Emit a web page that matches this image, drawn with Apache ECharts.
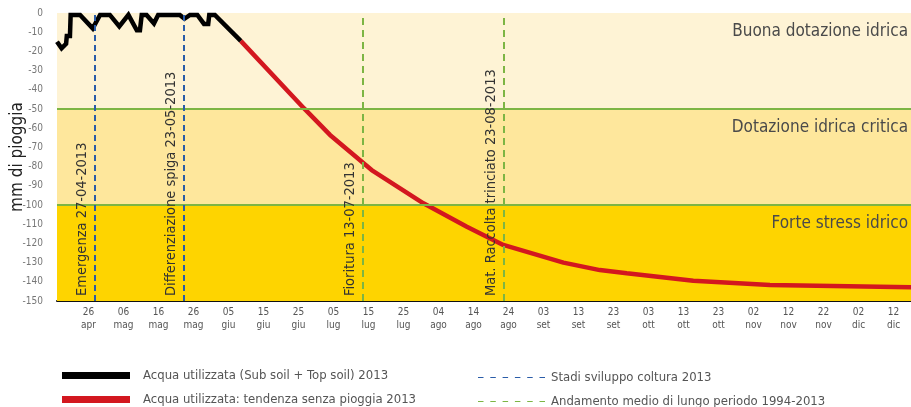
<!DOCTYPE html>
<html>
<head>
<meta charset="utf-8">
<script src="https://cdn.jsdelivr.net/npm/echarts@6/dist/echarts.min.js"></script>
<style>
html,body{margin:0;padding:0;background:#fff;}
#c{width:911px;height:407px;}
</style>
</head>
<body>
<div id="c"></div>
<script>
// x = days since 16 April 2013
var tickDays = [10,20,30,40,50,60,70,80,90,100,110,120,130,140,150,160,170,180,190,200,210,220,230,240];
var tickLabels = ["26\napr","06\nmag","16\nmag","26\nmag","05\ngiu","15\ngiu","25\ngiu","05\nlug","15\nlug","25\nlug","04\nago","14\nago","24\nago","03\nset","13\nset","23\nset","03\nott","13\nott","23\nott","02\nnov","12\nnov","22\nnov","02\ndic","12\ndic"];

var usedDays   = [1, 2.3, 3.6, 3.8, 4.7, 4.9, 7.6, 11.2, 13.3, 16.1, 18.8, 21.4, 23.8, 24.7, 25.2, 26.6, 28.7, 29.9, 36.1, 37.4, 39, 41.1, 43, 44.2, 44.5, 46.1, 53.5];
var usedValues = [-15, -18.4, -16, -12, -12, -1, -1, -8, -1, -1, -7, -1, -9, -9, -1, -1, -5.4, -1, -1, -3, -1, -1, -5.7, -5.7, -1, -1, -14.5];

var trendDays   = [53.5, 71.6, 79, 90.9, 105.7, 118.1, 128.5, 145.7, 156.1, 163.8, 182.8, 204.7, 245];
var trendValues = [-14.5, -49.7, -63.5, -81.8, -99.1, -111.3, -120.8, -130.0, -133.9, -135.6, -139.4, -141.7, -142.9];

var stageDays   = [11.9, 37.3];
var stageLabels = ["Emergenza 27-04-2013", "Differenziazione spiga 23-05-2013"];
var meanDays    = [88.3, 128.6];
var meanLabels  = ["Fioritura 13-07-2013", "Mat. Raccolta trinciato 23-08-2013"];

var zoneBounds = [0, -50, -100, -150];
var zoneLabels = ["Buona dotazione idrica", "Dotazione idrica critica", "Forte stress idrico"];
var zoneColors = ["#FEF3D5", "#FEE79C", "#FED400"];

var seriesNames = ["Acqua utilizzata (Sub soil + Top soil) 2013", "Acqua utilizzata: tendenza senza pioggia 2013", "Stadi sviluppo coltura 2013", "Andamento medio di lungo periodo 1994-2013"];
var seriesColors = ["#000000", "#D3171F", "#2A5CA8", "#7DB544"];

var FONT = "'Liberation Sans Narrow', 'DejaVu Sans Condensed', 'Liberation Sans', sans-serif";
var DASH_ICON = 'path://M0,0h5.5v1h-5.5z M12.3,0h5.5v1h-5.5z M24.6,0h5.5v1h-5.5z M36.9,0h5.5v1h-5.5z M49.2,0h5.5v1h-5.5z M61.5,0h5.5v1h-5.5z';

function pairs(xs, ys){ return xs.map(function(x,i){ return [x, ys[i]]; }); }

var zoneAreas = zoneLabels.map(function(l,i){
  return [{yAxis: zoneBounds[i], name: l, itemStyle:{color: zoneColors[i]},
           label: {show: true, formatter: l}}, {yAxis: zoneBounds[i+1]}];
});

function vLines(days, labels){
  return days.map(function(d,i){ return {xAxis: d, label:{formatter: labels[i]}}; });
}

var legendText = {color: '#555', fontSize: 13, fontFamily: FONT};
function legendItem(idx, left, top, icon, w, h, pad){
  return {left: left, top: top, itemWidth: w, itemHeight: h, selectedMode: false,
          textStyle: Object.assign({padding: [0,0,0,pad]}, legendText),
          data: [{name: seriesNames[idx], icon: icon, itemStyle: {color: seriesColors[idx], opacity: 1}}]};
}

var chart = echarts.init(document.getElementById('c'), null, {renderer:'canvas'});
chart.setOption({
  animation: false,
  textStyle: {fontFamily: FONT},
  grid: {left: 57, right: 0, top: 13, bottom: 106, containLabel: false, outerBoundsMode: 'none'},
  xAxis: {
    type: 'value', min: 1, max: 245,
    axisLine: {show: true, onZero: false, lineStyle: {color: '#111', width: 2}},
    axisTick: {show: false},
    splitLine: {show: false},
    axisLabel: {
      customValues: tickDays,
      color: '#555', fontSize: 10, lineHeight: 13, margin: 5, fontFamily: FONT,
      formatter: function(v){ var i = tickDays.indexOf(v); return i >= 0 ? tickLabels[i] : ''; }
    }
  },
  yAxis: {
    type: 'value', min: -150, max: 0, interval: 10,
    name: 'mm di pioggia', nameLocation: 'middle', nameRotate: 90, nameGap: 31,
    nameMoveOverlap: false,
    nameTextStyle: {color: '#222', fontSize: 17, fontFamily: FONT},
    axisLine: {show: false}, axisTick: {show: false}, splitLine: {show: false},
    axisLabel: {color: '#777', fontSize: 10, margin: 14, fontFamily: FONT}
  },
  legend: [
    legendItem(0, 57, 364, 'rect', 68, 7, 8),
    legendItem(1, 57, 388, 'rect', 68, 7, 8),
    legendItem(2, 473, 366, DASH_ICON, 67, 2, 1),
    legendItem(3, 473, 390, DASH_ICON, 67, 2, 1)
  ],
  series: [
    {
      name: 'zones', type: 'line', data: [], silent: true,
      markArea: {
        silent: true,
        label: {show: true, position: 'insideTopRight', distance: 3, offset: [0, 7], color: '#4a4a4a', fontSize: 17, fontFamily: FONT},
        data: zoneAreas
      },
      markLine: {
        silent: true, symbol: 'none', label: {show: false},
        lineStyle: {color: '#7DB544', width: 2, type: 'solid'},
        data: [{yAxis: zoneBounds[1]}, {yAxis: zoneBounds[2]}]
      }
    },
    {
      name: seriesNames[2], type: 'line', data: [], symbol: 'none',
      itemStyle: {color: seriesColors[2]},
      lineStyle: {color: seriesColors[2], width: 2, type: [5, 4]},
      markLine: {
        silent: true, symbol: 'none',
        lineStyle: {color: seriesColors[2], width: 2, type: [6, 4]},
        label: {show: true, position: 'insideStartTop', distance: 5, color: '#333', fontSize: 14.5, fontFamily: FONT},
        data: vLines(stageDays, stageLabels)
      }
    },
    {
      name: seriesNames[3], type: 'line', data: [], symbol: 'none',
      itemStyle: {color: seriesColors[3]},
      lineStyle: {color: seriesColors[3], width: 2, type: [5, 4]},
      markLine: {
        silent: true, symbol: 'none',
        lineStyle: {color: seriesColors[3], width: 2, type: [7, 5]},
        label: {show: true, position: 'insideStartTop', distance: 5, color: '#333', fontSize: 14.5, fontFamily: FONT},
        data: vLines(meanDays, meanLabels)
      }
    },
    {
      name: seriesNames[1], type: 'line', symbol: 'none', clip: false,
      itemStyle: {color: seriesColors[1]},
      lineStyle: {color: seriesColors[1], width: 4.5},
      data: pairs(trendDays, trendValues), z: 3
    },
    {
      name: seriesNames[0], type: 'line', symbol: 'none', clip: false,
      itemStyle: {color: seriesColors[0]},
      lineStyle: {color: seriesColors[0], width: 4.5, join: 'miter'},
      data: pairs(usedDays, usedValues), z: 4
    }
  ]
});
</script>
</body>
</html>
